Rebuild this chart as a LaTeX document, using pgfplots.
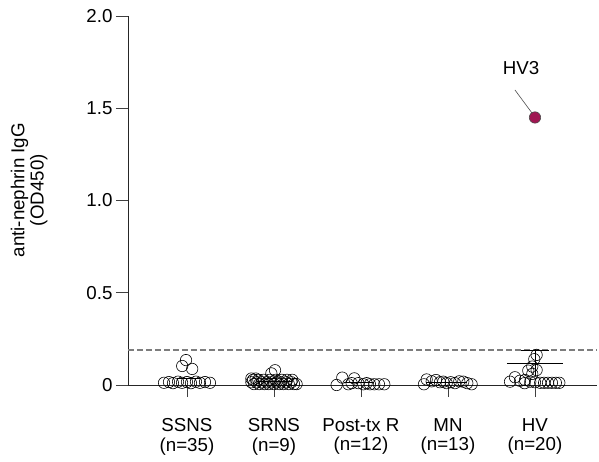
\documentclass[border=0pt]{standalone}
\usepackage{fontspec}
\setmainfont{Liberation Sans}
\usepackage{pgfplots}
\pgfplotsset{compat=1.18}
\definecolor{hvthree}{RGB}{160,22,82}
\definecolor{dashgrey}{RGB}{125,125,125}
\newcommand{\bigfont}{\fontsize{18.8}{19.5}\selectfont}

\begin{document}
\begin{tikzpicture}
\useasboundingbox (-128bp,-77bp) rectangle (471bp,385bp);
\begin{axis}[
    at={(0,0)}, anchor=south west,
    scale only axis, width=469bp, height=369bp,
    xmin=-0.678, xmax=4.713, ymin=0, ymax=2,
    axis x line=bottom, axis y line=left,
    axis line style={-, black!85, line width=0.8pt},
    clip=false,
    tick label style={font=\bigfont},
    label style={font=\bigfont},
    xtick={0,1,2,3,4},
    xticklabels={{SSNS\\(n=35)},{SRNS\\(n=9)},{Post-tx R\\(n=12)},{MN\\(n=13)},{HV\\(n=20)}},
    xticklabel style={align=center, yshift=-18bp},
    ytick={0,0.5,1,1.5,2},
    yticklabels={0,0.5,1.0,1.5,2.0},
    tick align=outside, major tick length=12bp,
    tick style={black!75, line width=0.8pt},
    /pgf/number format/assume math mode=true,
    ylabel={anti-nephrin IgG\\(OD450)},
    ylabel style={align=center, at={(axis description cs:-0.171,0.528)},
                  anchor=south, inner sep=0pt},
]
% Cut-off (gestrichelt)
\addplot[dashgrey, line width=1.5bp, dash pattern=on 6bp off 3bp]
  coordinates {(-0.678,0.19) (4.713,0.19)};

% SSNS
\addplot[only marks, mark=o, mark size=5.7bp, mark options={line width=0.6pt}, black]
  coordinates {
    (-0.264,0.012) (-0.207,0.016) (-0.161,0.010) (-0.103,0.018) (-0.057,0.012)
    (0,0.016) (0.046,0.010) (0.103,0.018) (0.149,0.012) (0.207,0.016)
    (0.264,0.012) (-0.011,0.135) (-0.055,0.103) (0.06,0.087)
  };
% SRNS
\addplot[only marks, mark=o, mark size=5.7bp, mark options={line width=0.6pt}, black]
  coordinates {
    (0.77,0.005) (0.83,0.005) (0.89,0.005) (0.94,0.005) (1.00,0.005)
    (1.06,0.005) (1.11,0.005) (1.17,0.005) (1.23,0.005) (1.26,0.005)
    (0.74,0.015) (0.80,0.015) (0.86,0.015) (0.92,0.015) (0.97,0.015)
    (1.03,0.015) (1.08,0.015) (1.14,0.015) (1.20,0.015)
    (0.76,0.028) (0.82,0.028) (0.88,0.028) (0.95,0.028) (1.02,0.028)
    (1.09,0.028) (1.15,0.028) (1.21,0.028)
    (0.74,0.035) (0.79,0.035)
    (1.012,0.080) (0.97,0.063)
  };
% Post-tx R
\addplot[only marks, mark=o, mark size=5.7bp, mark options={line width=0.6pt}, black]
  coordinates {
    (1.72,0.0) (1.785,0.04) (1.855,0.004) (1.893,0.01) (1.923,0.036)
    (1.97,0.01) (2.027,0.004) (2.065,0.01) (2.103,0.004) (2.153,0.004)
    (2.207,0.004) (2.268,0.004)
  };
% MN
\addplot[only marks, mark=o, mark size=5.7bp, mark options={line width=0.6pt}, black]
  coordinates {
    (2.724,0.004) (2.755,0.03) (2.813,0.02) (2.862,0.027) (2.908,0.015)
    (2.946,0.018) (2.985,0.01) (3.031,0.015) (3.08,0.01) (3.13,0.02)
    (3.176,0.018) (3.222,0.01) (3.272,0.004)
  };
% HV
\addplot[only marks, mark=o, mark size=5.7bp, mark options={line width=0.6pt}, black]
  coordinates {
    (4.019,0.163) (3.992,0.14) (3.969,0.1) (3.923,0.078) (4.019,0.081)
    (3.969,0.06) (3.77,0.042) (3.713,0.018) (3.828,0.023) (3.885,0.027)
    (3.946,0.018) (4.0,0.015) (3.88,0.01) (4.06,0.012) (4.105,0.012)
    (4.15,0.012) (4.195,0.012) (4.24,0.012) (4.28,0.012)
  };
% HV3
\addplot[only marks, mark=*, mark size=5.7bp,
         mark options={fill=hvthree, draw=black!70, line width=0.6pt}]
  coordinates {(4,1.45)};
\addplot[black!70, line width=0.6pt] coordinates {(3.77,1.599) (3.966,1.474)};
\node[font=\bigfont] at (axis cs:3.84,1.718) {HV3};

% Mittelwerte und SD
\addplot[black, line width=0.8pt] coordinates {(-0.12,0.036) (0.149,0.036)};
\addplot[black, line width=0.8pt] coordinates {(0.8,0.02) (1.2,0.02)};
\addplot[black, line width=0.8pt] coordinates {(1.8,0.012) (2.15,0.012)};
\addplot[black, line width=0.8pt] coordinates {(2.75,0.014) (3.22,0.014)};
\addplot[black, line width=0.8pt] coordinates {(3.678,0.117) (4.322,0.117)};
\addplot[black, line width=0.8pt] coordinates {(3.84,0.186) (4.16,0.186)};
\addplot[black, line width=0.8pt] coordinates {(4,0.048) (4,0.186)};
\end{axis}
\end{tikzpicture}
\end{document}
